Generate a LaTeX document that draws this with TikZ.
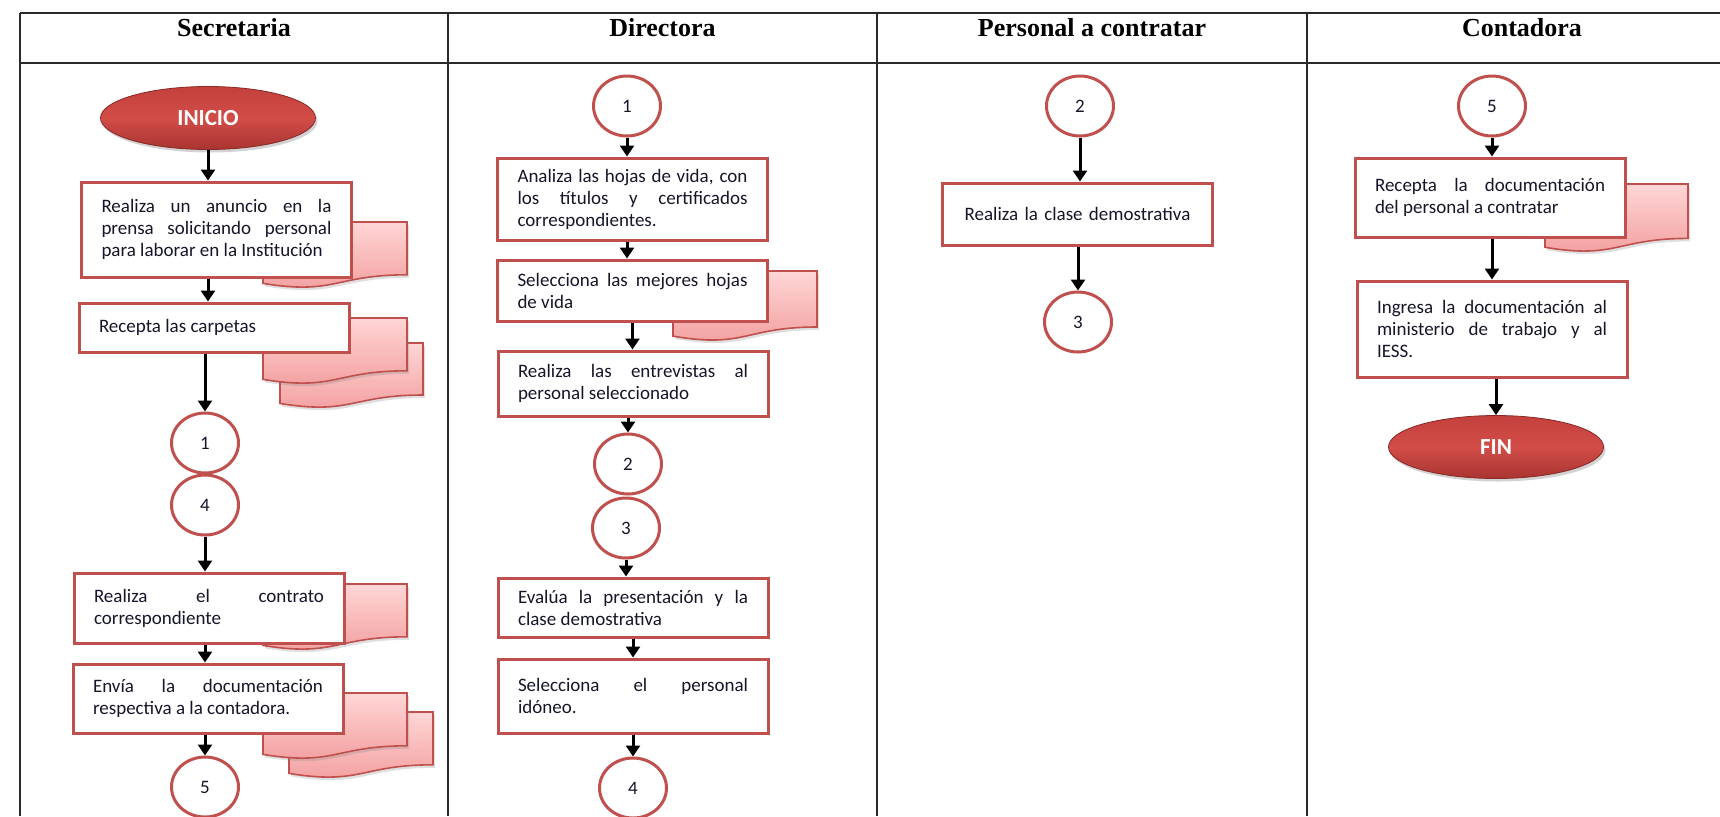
\documentclass[tikz,border=0pt]{standalone}
\usepackage{fontspec}
\setmainfont{Carlito}
\newfontfamily\hdrfont{Liberation Serif}
\usetikzlibrary{shapes.geometric,arrows.meta,shadows}
\definecolor{boxred}{HTML}{C0504D}
\definecolor{docTop}{HTML}{FFD6D6}
\definecolor{docBot}{HTML}{F29C9C}
\definecolor{txt}{HTML}{16162A}
\definecolor{gridc}{HTML}{2A2A2A}
\definecolor{ovTop}{HTML}{C4403C}
\definecolor{ovMid}{HTML}{D24D48}
\definecolor{ovBot}{HTML}{A93431}
\tikzset{
 grid line/.style={draw=gridc, line width=1pt},
 hdr/.style={font=\hdrfont\bfseries\fontsize{13}{15}\selectfont, text=black},
 proc/.style={draw=boxred, line width=1.5pt, fill=white, minimum width=135pt, text width=115pt, inner xsep=10pt, inner ysep=2pt, align=justify, font=\fontsize{9.5}{11}\selectfont, text=txt},
 conn/.style={ellipse, draw=boxred, line width=1.5pt, fill=white, minimum width=33.5pt, minimum height=30pt, inner sep=0pt, font=\fontsize{9.5}{11}\selectfont, text=txt},
 term/.style={ellipse, draw=ovBot!80!black, line width=0.4pt, top color=ovTop, bottom color=ovBot, middle color=ovMid, minimum width=107.5pt, minimum height=31.5pt, inner sep=0pt, font=\bfseries\fontsize{11.5}{13}\selectfont, text=white, drop shadow={opacity=0.35, shadow xshift=1pt, shadow yshift=-1.5pt}},
 docsty/.style={draw=boxred, line width=0.8pt, top color=docTop, bottom color=docBot, drop shadow={opacity=0.25, shadow xshift=1pt, shadow yshift=-1.5pt}},
 flow/.style={draw=black, line width=1.5pt, -{Triangle[length=5.5pt,width=7pt]}},
}
\newcommand\DocShp[4]{%
 \path[docsty] (#1,#2) -- ({#1+#3},#2) -- ({#1+#3},{#2+0.80*#4})
   .. controls ({#1+0.5*#3},{#2+0.80*#4}) and ({#1+0.5*#3},{#2+1.11*#4}) .. (#1,{#2+0.93*#4}) -- cycle;}
\begin{document}
\begin{tikzpicture}[x=0.5pt,y=-0.5pt]
\useasboundingbox (0,0) rectangle (1720,816);
\fill[white] (0,0) rectangle (1720,816);
% table
\draw[grid line] (20,13) -- (1720,13) (20,63) -- (1720,63);
\foreach \x in {20,448,877,1307} \draw[grid line] (\x,13) -- (\x,816);
\node[hdr] (h1) at (234,28) {Secretaria};
\node[hdr] (h2) at (662.5,28) {Directora};
\node[hdr] (h3) at (1092,28) {Personal a contratar};
\node[hdr] (h4) at (1522,28) {Contadora};
% documents (decorative)
\DocShp{263}{222}{144}{66}
\DocShp{280}{343}{143}{65}
\DocShp{263}{318}{144}{66}
\DocShp{263}{584}{144}{66}
\DocShp{289}{712}{144}{66}
\DocShp{263}{693}{144}{66}
\DocShp{673}{271}{144}{70}
\DocShp{1545}{184}{143}{68}
% Secretaria
\node[term] (ini) at (208,118) {INICIO};
\node[proc, minimum height=47.5pt] (s1) at (216.5,229.5) {Realiza un anuncio en la\linebreak prensa solicitando personal\linebreak para laborar en la Institución};
\node[proc, minimum height=24.5pt] (s2) at (214,327.5) {Recepta las carpetas};
\node[conn] (c1) at (205,443) {1};
\node[conn] (c4) at (205,505) {4};
\node[proc, minimum height=35pt] (s3) at (209,608) {Realiza el contrato\linebreak correspondiente};
\node[proc, minimum height=34.5pt] (s4) at (208,698.5) {Envía la documentación\linebreak respectiva a la contadora.};
\node[conn] (c5) at (205,787) {5};
% Directora
\node[conn] (dc1) at (627,106) {1};
\node[proc, minimum height=41pt] (dA) at (632.5,199) {Analiza las hojas de vida, con\linebreak los títulos y certificados\linebreak correspondientes.};
\node[proc, minimum height=30.5pt] (dB) at (632.5,290.5) {Selecciona las mejores hojas\linebreak de vida};
\node[proc, minimum height=32.5pt] (dC) at (633,383.5) {Realiza las entrevistas al\linebreak personal seleccionado};
\node[conn] (dc2) at (628,464) {2};
\node[conn] (dc3) at (626,528) {3};
\node[proc, minimum height=29.5pt] (dD) at (633,607.5) {Evalúa la presentación y la\linebreak clase demostrativa};
\node[proc, minimum height=37pt] (dE) at (633,696) {Selecciona el personal\linebreak idóneo.};
\node[conn] (dc4) at (633,788) {4};
% Personal a contratar
\node[conn] (pc2) at (1080,106) {2};
\node[proc, minimum height=31pt, align=center] (pA) at (1077.5,214) {Realiza la clase demostrativa};
\node[conn] (pc3) at (1078,322) {3};
% Contadora
\node[conn] (cc5) at (1492,106) {5};
\node[proc, minimum height=39.5pt] (cA) at (1490,197.5) {Recepta la documentación\linebreak del personal a contratar};
\node[proc, minimum height=48pt] (cB) at (1492,329) {Ingresa la documentación al\linebreak ministerio de trabajo y al\linebreak IESS.};
\node[term, minimum height=31.5pt] (fin) at (1496,447) {FIN};
% connectors
\draw[flow] (ini.south) -- (ini.south |- s1.north);
\draw[flow] (s1.south -| ini.south) -- (ini.south |- s2.north);
\draw[flow] (s2.south -| c1.north) -- (c1.north);
\draw[flow] (c4.south) -- (c4.south |- s3.north);
\draw[flow] (s3.south -| c4.south) -- (c4.south |- s4.north);
\draw[flow] (s4.south -| c5.north) -- (c5.north);
\draw[flow] (dc1.south) -- (dc1.south |- dA.north);
\draw[flow] (dA.south -| dc1.south) -- (dc1.south |- dB.north);
\draw[flow] (dB.south) -- (dB.south |- dC.north);
\draw[flow] (dC.south -| dc2.north) -- (dc2.north);
\draw[flow] (dc3.south) -- (dc3.south |- dD.north);
\draw[flow] (dD.south) -- (dD.south |- dE.north);
\draw[flow] (dE.south -| dc4.north) -- (dc4.north);
\draw[flow] (pc2.south) -- (pc2.south |- pA.north);
\draw[flow] (pA.south -| pc3.north) -- (pc3.north);
\draw[flow] (cc5.south) -- (cc5.south |- cA.north);
\draw[flow] (cA.south -| cB.north) -- (cB.north);
\draw[flow] (cB.south -| fin.north) -- (fin.north);
\end{tikzpicture}
\end{document}
